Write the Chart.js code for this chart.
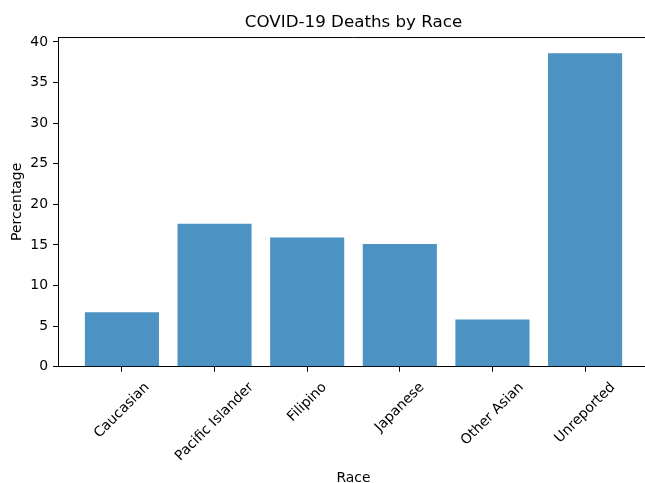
<!DOCTYPE html>
<html>
<head>
<meta charset="utf-8">
<script src="https://cdn.jsdelivr.net/npm/chart.js@4.4.0/dist/chart.umd.min.js"></script>
<style>
  body { margin: 0; overflow: hidden; background: #fff; }
  #wrap { width: 649px; height: 483px; }
</style>
</head>
<body>
<div id="wrap"><canvas id="race-chart"></canvas></div>
<script>
const categories = ['Caucasian', 'Pacific Islander', 'Filipino', 'Japanese', 'Other Asian', 'Unreported']
const percentages = [6.7, 17.6, 15.9, 15.1, 5.8, 38.6]
const yTicks = [0, 5, 10, 15, 20, 25, 30, 35, 40]

const FONT = '"DejaVu Sans", sans-serif'

// matplotlib style: top spine + rotated labels centred on their tick
const spinesAndLabels = {
    id: 'spinesAndLabels',
    afterDraw(chart) {
        const ctx = chart.ctx
        const area = chart.chartArea
        const xs = chart.scales.x
        ctx.save()
        ctx.strokeStyle = '#000'
        ctx.lineWidth = 1
        ctx.beginPath()
        ctx.moveTo(area.left, area.top + 0.5)
        ctx.lineTo(area.right, area.top + 0.5)
        ctx.stroke()

        ctx.font = '13.9px ' + FONT
        ctx.fillStyle = '#000'
        ctx.textAlign = 'center'
        ctx.textBaseline = 'middle'
        categories.forEach((label, i) => {
            const w = ctx.measureText(label).width
            const half = (w + 13.9) * Math.SQRT1_2 / 2
            ctx.save()
            ctx.translate(xs.getPixelForValue(i), xs.top + 13.5 + half)
            ctx.rotate(-Math.PI / 4)
            ctx.fillText(label, 0, 0)
            ctx.restore()
        })
        ctx.restore()
    }
}

new Chart(document.querySelector('#race-chart').getContext('2d'), {
    type: 'bar',
    data: {
        datasets: [{
            label: 'Percentage',
            data: percentages.map((value, i) => ({ x: i, y: value })),
            backgroundColor: 'rgba(31, 119, 180, 0.8)',
            borderWidth: 0,
            categoryPercentage: 1,
            barPercentage: 0.8
        }]
    },
    plugins: [spinesAndLabels],
    options: {
        responsive: true,
        maintainAspectRatio: false,
        animation: false,
        layout: { padding: 0 },
        plugins: {
            legend: { display: false },
            tooltip: { enabled: false },
            title: {
                display: true,
                text: 'COVID-19 Deaths by Race',
                fullSize: false,
                color: '#000',
                font: { family: FONT, size: 16.7, weight: 'normal', lineHeight: 1.2 },
                padding: { top: 13, bottom: 4 }
            }
        },
        scales: {
            x: {
                type: 'linear',
                min: -0.69,
                max: 5.69,
                offset: false,
                afterBuildTicks: scale => { scale.ticks = categories.map((c, i) => ({ value: i })) },
                afterFit: scale => { scale.height = 116.3 },
                ticks: { display: false },
                grid: { display: true, offset: false, drawOnChartArea: false, drawTicks: true, tickLength: 5, color: '#000' },
                border: { display: true, color: '#000', width: 1 },
                title: {
                    display: true,
                    text: 'Race',
                    color: '#000',
                    font: { family: FONT, size: 13.9, lineHeight: 0.72 },
                    padding: { top: 0, bottom: 0 }
                }
            },
            y: {
                min: 0,
                max: 40.6,
                afterBuildTicks: scale => { scale.ticks = yTicks.map(v => ({ value: v })) },
                afterFit: scale => { scale.width = 58 },
                ticks: {
                    color: '#000',
                    padding: 5,
                    font: { family: FONT, size: 13.9 }
                },
                grid: { display: true, drawOnChartArea: false, drawTicks: true, tickLength: 5, color: '#000' },
                border: { display: true, color: '#000', width: 1 },
                title: {
                    display: true,
                    text: 'Percentage',
                    color: '#000',
                    font: { family: FONT, size: 13.9, lineHeight: 1.2 },
                    padding: { top: 9.5, bottom: 0 }
                }
            }
        }
    }
})
</script>
</body>
</html>
